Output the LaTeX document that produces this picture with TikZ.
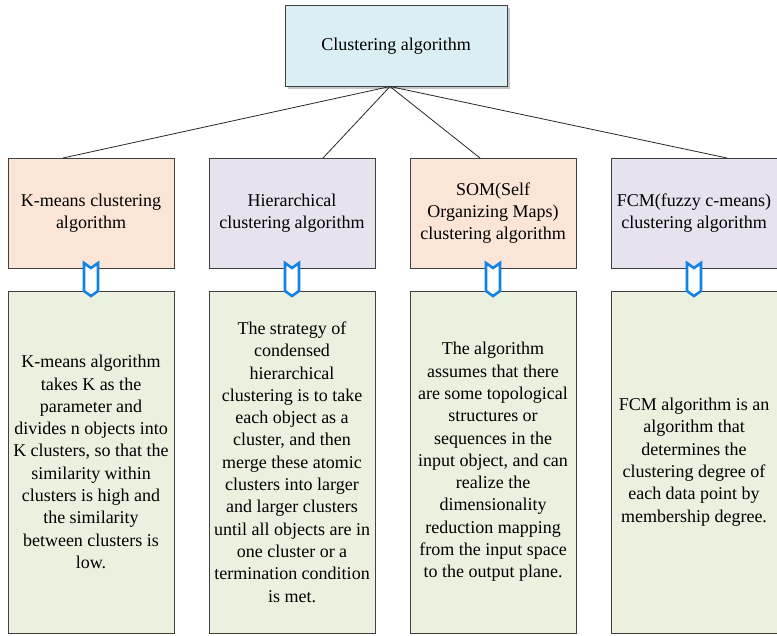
\documentclass[tikz,border=0pt]{standalone}
\usepackage{fontspec}
\setmainfont{Liberation Serif}
\usetikzlibrary{positioning,shadows}

\definecolor{topblue}{HTML}{DAEEF3}
\definecolor{peach}{HTML}{FBE5D6}
\definecolor{lavender}{HTML}{E7E3EE}
\definecolor{palegreen}{HTML}{EBF1DE}
\definecolor{markblue}{HTML}{1283E6}
\definecolor{edgegray}{HTML}{404040}

\begin{document}
\begin{tikzpicture}[
  x=1pt, y=-1pt,
  node distance=35pt,
  box/.style={draw=edgegray, line width=0.9pt, outer sep=0pt, inner sep=2pt,
    align=center, minimum width=166pt, minimum height=110pt,
    font=\fontsize{18}{22.3}\selectfont},
  descbox/.style={box, fill=palegreen, minimum height=342pt},
  link/.style={line width=0.8pt, black!85},
  markarr/.style={draw=markblue, fill=white, line width=2.6pt, line join=miter}
]
  \useasboundingbox (0,0) rectangle (777,635);

  \node[box, fill=topblue, minimum width=222pt, minimum height=81pt,
    drop shadow={shadow xshift=2.5pt, shadow yshift=-2.5pt, opacity=0.45, fill=gray}]
    (clus) at (396,46) {Clustering algorithm};

  \node[box, fill=peach, anchor=north west] (kmeans) at (8,158) {K-means clustering\\algorithm};
  \node[box, fill=lavender, right=of kmeans] (hier) {Hierarchical\\clustering algorithm};
  \node[box, fill=peach, right=of hier] (som) {SOM(Self\\Organizing Maps)\\clustering algorithm};
  \node[box, fill=lavender, right=of som] (fcm) {FCM(fuzzy c-means)\\clustering algorithm};

  \node[descbox, below=23pt of kmeans] (kmeans-d) {K-means algorithm\\takes K as the\\parameter and\\divides n objects into\\K clusters, so that the\\similarity within\\clusters is high and\\the similarity\\between clusters is\\low.};
  \node[descbox, below=23pt of hier] (hier-d) {The strategy of\\condensed\\hierarchical\\clustering is to take\\each object as a\\cluster, and then\\merge these atomic\\clusters into larger\\and larger clusters\\until all objects are in\\one cluster or a\\termination condition\\is met.};
  \node[descbox, below=23pt of som] (som-d) {The algorithm\\assumes that there\\are some topological\\structures or\\sequences in the\\input object, and can\\realize the\\dimensionality\\reduction mapping\\from the input space\\to the output plane.};
  \node[descbox, below=23pt of fcm] (fcm-d) {FCM algorithm is an\\algorithm that\\determines the\\clustering degree of\\each data point by\\membership degree.};

  % tree lines
  \draw[link] ([xshift=-6pt]clus.south) -- ([xshift=-28pt]kmeans.north);
  \draw[link] ([xshift=-6pt]clus.south) -- ([xshift=31pt]hier.north);
  \draw[link] ([xshift=-6pt]clus.south) -- ([xshift=-13pt]som.north);
  \draw[link] ([xshift=-6pt]clus.south) -- ([xshift=33pt]fcm.north);

  % down marks
  \foreach \n in {kmeans,hier,som,fcm}
    \draw[markarr] (\n.south) -- ++(7,-5) -- ++(0,28) -- ++(-7,5) -- ++(-7,-5) -- ++(0,-28) -- cycle;
\end{tikzpicture}
\end{document}
